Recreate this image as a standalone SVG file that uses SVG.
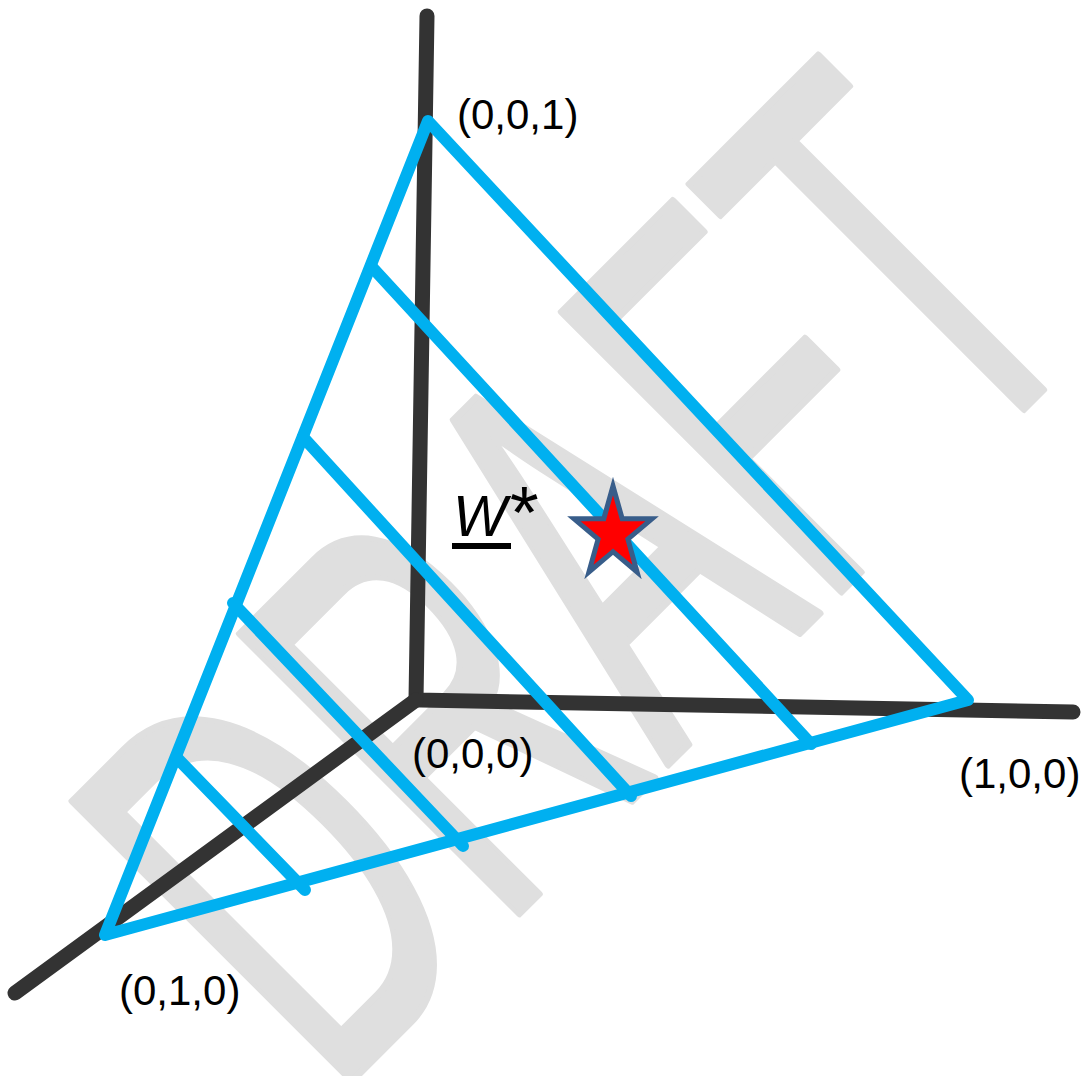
<svg xmlns="http://www.w3.org/2000/svg" width="1091" height="1076" viewBox="0 0 1091 1076">
<style>
.wm{font-family:"Liberation Sans",Arial,sans-serif;font-size:575px;fill:#dfdfdf;stroke:#dfdfdf;stroke-width:7;stroke-linejoin:round}
.axis{fill:none;stroke:#333333;stroke-width:15;stroke-linecap:round;stroke-linejoin:miter}
.blue{fill:none;stroke:#00b0f0;stroke-width:12;stroke-linecap:round;stroke-linejoin:round}
.lbl{font-family:"Liberation Sans",Arial,sans-serif;font-size:42px;fill:#000}
.w{font-family:"Liberation Sans",Arial,sans-serif;font-size:57px;font-style:italic;fill:#000}
</style>
<rect width="1091" height="1076" fill="#ffffff"/>
<g id="watermark">
<text class="wm" transform="translate(332,1101) rotate(-45) scale(0.57,1)" x="0" y="0">DRAFT</text>
</g>
<g id="connectors">
<g id="axes">
<path class="axis" d="M427,16 L416,700 L1073,712"/>
<path class="axis" d="M416,700 L15,993"/>
</g>
<g id="simplex">
<polygon class="blue" points="428,121 968,700 105,935"/>
</g>
<g id="level-lines">
<line class="blue" x1="371" y1="266" x2="811" y2="744"/>
<line class="blue" x1="303" y1="437" x2="631" y2="796"/>
<line class="blue" x1="233" y1="603" x2="463" y2="846"/>
<line class="blue" x1="178" y1="759" x2="305" y2="890"/>
</g>
</g>
<g id="optimum">
<path d="M574,518.8 L603.8,518.8 L613,486 L622.2,518.8 L652,518.8 L627.9,539.1 L637.1,572 L613,551.7 L588.9,572 L598.1,539.1 Z" fill="#ff0000" stroke="#385d8a" stroke-width="5" stroke-linejoin="miter"/>
</g>
<g id="label-w">
<text class="w" x="453" y="536">W<tspan font-size="74" dy="2">*</tspan></text>
<rect x="452" y="543" width="59" height="6" fill="#000"/>
</g>
<g id="label-001"><text class="lbl" x="457" y="129">(0,0,1)</text></g>
<g id="label-000"><text class="lbl" x="412" y="768">(0,0,0)</text></g>
<g id="label-100"><text class="lbl" x="959" y="788">(1,0,0)</text></g>
<g id="label-010"><text class="lbl" x="119" y="1005">(0,1,0)</text></g>
</svg>
